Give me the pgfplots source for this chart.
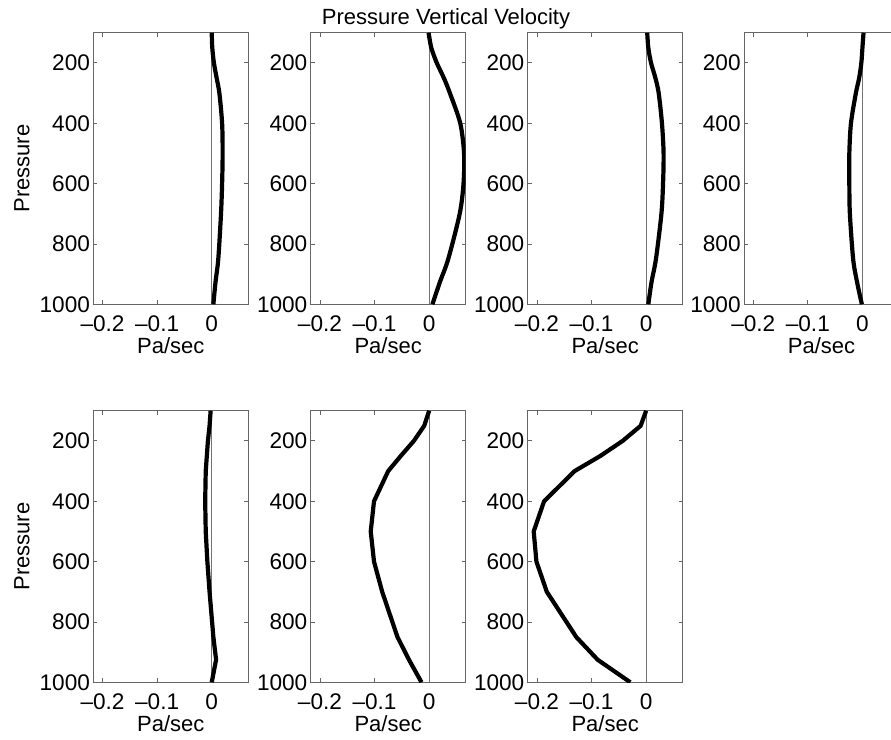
\documentclass[border=0pt]{standalone}
\usepackage{fontspec}
\setmainfont{Liberation Sans}
\usepackage{pgfplots}
\pgfplotsset{compat=1.18}
\pgfplotsset{
  panel/.style={
    scale only axis,
    width=77.5pt, height=135.8pt,
    anchor=south west,
    xmin=-0.217, xmax=0.067,
    ymin=100, ymax=1000,
    y dir=reverse,
    xtick={-0.2,-0.1,0},
    xticklabels={--0.2,--0.1,0},
    ytick={200,400,600,800,1000},
    yticklabels={200,400,600,800,1000},
    tick align=inside,
    major tick length=2pt,
    axis line style={black!60, line width=0.4pt},
    tick style={black!60, line width=0.4pt},
    font=\fontsize{11}{12}\selectfont,
    ticklabel style={font=\fontsize{11.3}{12}\selectfont, inner sep=1.5pt},
    xticklabel style={yshift=-4pt},
    xlabel={Pa/sec},
    xlabel style={yshift=2pt},
    clip=true,
  },
  prof/.style={black, line width=2.1pt, line join=round, mark=none},
  zline/.style={black!55, line width=0.4pt, mark=none},
}
\begin{document}
\begin{tikzpicture}
% Panel 1
\begin{axis}[panel, at={(46.65pt,217.85pt)}, ylabel={Pressure}]
\addplot[zline] coordinates {(0,100) (0,1000)};
\addplot[prof, smooth] coordinates {(0.000,100) (0.001,150) (0.004,200) (0.009,250) (0.014,300) (0.019,400) (0.020,500) (0.019,600) (0.017,700) (0.012,850) (0.007,925) (0.003,1000)};
\end{axis}
% Panel 2
\begin{axis}[panel, at={(155.35pt,217.85pt)}]
\addplot[zline] coordinates {(0,100) (0,1000)};
\addplot[prof, smooth] coordinates {(-0.001,100) (0.004,150) (0.014,200) (0.027,250) (0.038,300) (0.057,400) (0.064,500) (0.063,600) (0.056,700) (0.035,850) (0.020,925) (0.006,1000)};
\end{axis}
% Panel 3
\begin{axis}[panel, at={(263.85pt,217.85pt)}]
\addplot[zline] coordinates {(0,100) (0,1000)};
\addplot[prof, smooth] coordinates {(0.002,100) (0.004,150) (0.009,200) (0.017,250) (0.023,300) (0.029,400) (0.032,500) (0.031,600) (0.028,700) (0.018,850) (0.010,925) (0.004,1000)};
\end{axis}
% Panel 4
\begin{axis}[panel, at={(372.0pt,217.85pt)}]
\addplot[zline] coordinates {(0,100) (0,1000)};
\addplot[prof, smooth] coordinates {(0.002,100) (0.000,150) (-0.002,200) (-0.006,250) (-0.012,300) (-0.021,400) (-0.024,500) (-0.024,600) (-0.023,700) (-0.017,850) (-0.010,925) (-0.001,1000)};
\end{axis}
% Panel 5
\begin{axis}[panel, at={(46.65pt,28.85pt)}, ylabel={Pressure}]
\addplot[zline] coordinates {(0,100) (0,1000)};
\addplot[prof] coordinates {(-0.002,100) (-0.004,150) (-0.007,200) (-0.009,250) (-0.011,300) (-0.012,400) (-0.011,500) (-0.008,600) (-0.004,700) (0.003,850) (0.008,925) (0.000,1000)};
\end{axis}
% Panel 6
\begin{axis}[panel, at={(155.35pt,28.85pt)}]
\addplot[zline] coordinates {(0,100) (0,1000)};
\addplot[prof] coordinates {(0.000,100) (-0.009,150) (-0.028,200) (-0.052,250) (-0.075,300) (-0.101,400) (-0.107,500) (-0.101,600) (-0.086,700) (-0.058,850) (-0.037,925) (-0.014,1000)};
\end{axis}
% Panel 7
\begin{axis}[panel, at={(263.85pt,28.85pt)}]
\addplot[zline] coordinates {(0,100) (0,1000)};
\addplot[prof] coordinates {(0.000,100) (-0.010,150) (-0.043,200) (-0.084,250) (-0.131,300) (-0.187,400) (-0.206,500) (-0.201,600) (-0.182,700) (-0.128,850) (-0.089,925) (-0.029,1000)};
\end{axis}
\node[font=\fontsize{11}{12}\selectfont] at (223pt,360.5pt) {Pressure Vertical Velocity};
\pgfresetboundingbox
\path (0,0) rectangle (445.5pt,370pt);
\end{tikzpicture}
\end{document}
